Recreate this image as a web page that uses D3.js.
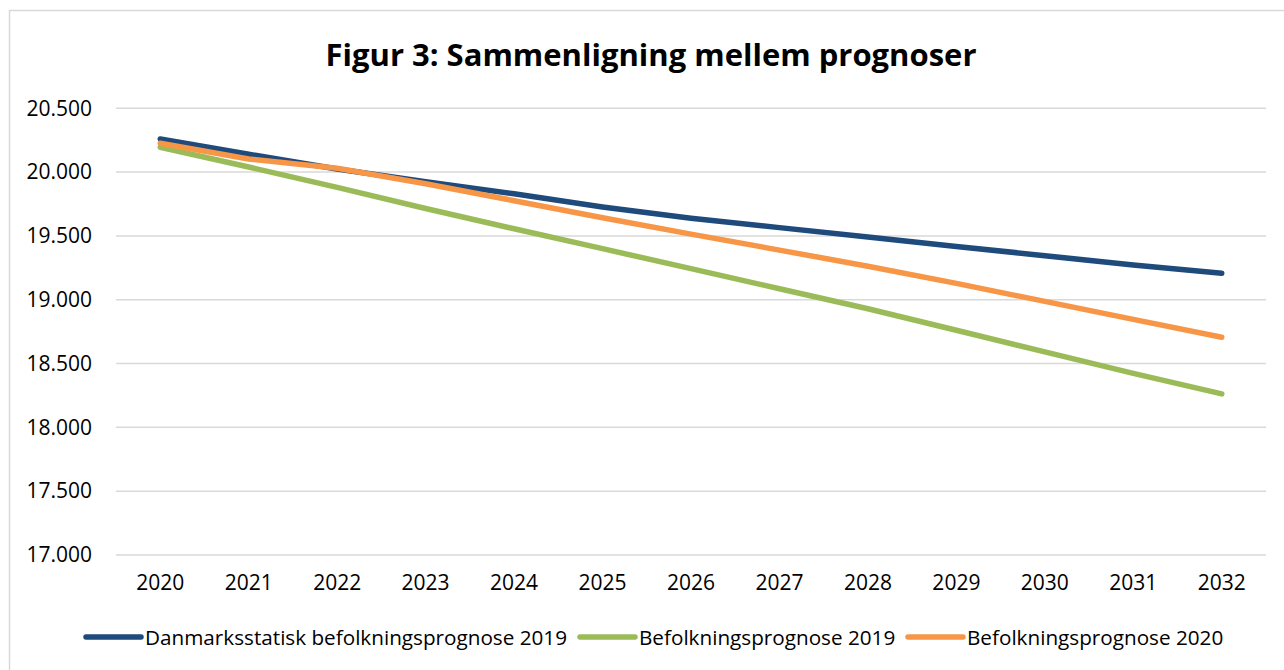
<!DOCTYPE html>
<html>
<head>
<meta charset="utf-8">
<title>Figur 3: Sammenligning mellem prognoser</title>
<script src="https://cdn.jsdelivr.net/npm/d3@7"></script>
<style>
  body { margin: 0; background: #fff; }
  text { font-family: "Open Sans", "Noto Sans", sans-serif; fill: #000; }
</style>
</head>
<body>
<script>
// data
var years = ["2020", "2021", "2022", "2023", "2024", "2025", "2026",
             "2027", "2028", "2029", "2030", "2031", "2032"];
var dst2019 = [20260, 20140, 20025, 19925, 19830, 19727, 19639,
               19565, 19492, 19418, 19345, 19273, 19208];
var prog2019 = [20195, 20040, 19880, 19715, 19556, 19400, 19244,
                19086, 18929, 18761, 18591, 18423, 18262];
var prog2020 = [20226, 20103, 20030, 19909, 19776, 19643, 19514,
                19389, 19263, 19128, 18987, 18846, 18706];
var yTicks = [17000, 17500, 18000, 18500, 19000, 19500, 20000, 20500];
var seriesNames = ["Danmarksstatisk befolkningsprognose 2019",
                   "Befolkningsprognose 2019",
                   "Befolkningsprognose 2020"];
var seriesColors = ["#1f4a7c", "#9bbb59", "#f79646"];

var W = 1284, H = 670;

var svg = d3.select("body").append("svg")
    .attr("width", W)
    .attr("height", H);

// chart frame
svg.append("rect")
    .attr("x", 9.5).attr("y", 10.5)
    .attr("width", W + 20).attr("height", H + 20)
    .attr("fill", "none")
    .attr("stroke", "#d9d9d9")
    .attr("stroke-width", 1.5);

var x = d3.scaleBand().domain(years).range([116, 1266]);
var y = d3.scaleLinear().domain([17000, 20500]).range([555, 108.3]);

// title
svg.append("text")
    .attr("x", 651).attr("y", 66)
    .attr("text-anchor", "middle")
    .style("font-size", "31px")
    .style("font-weight", "bold")
    .text("Figur 3: Sammenligning mellem prognoser");

// gridlines
svg.append("g").selectAll("line")
    .data(yTicks)
    .enter().append("line")
    .attr("x1", x.range()[0]).attr("x2", x.range()[1])
    .attr("y1", function(d) { return y(d); })
    .attr("y2", function(d) { return y(d); })
    .attr("stroke", "#d9d9d9")
    .attr("stroke-width", 1.5);

// y axis labels
var fmt = function(d) { return d3.format(",")(d).replace(",", "."); };
var yAxis = d3.axisLeft(y).tickValues(yTicks).tickFormat(fmt).tickSize(0).tickPadding(24);
var gy = svg.append("g").attr("transform", "translate(116,0)").call(yAxis);
gy.select(".domain").remove();
gy.selectAll("text").style("font-size", "21px").style("font-family", "\"Open Sans\", sans-serif");

// x axis labels
var xAxis = d3.axisBottom(x).tickSize(0).tickPadding(20);
var gx = svg.append("g").attr("transform", "translate(0,555)").call(xAxis);
gx.select(".domain").remove();
gx.selectAll("text").style("font-size", "21px").style("font-family", "\"Open Sans\", sans-serif");

// lines
var line = d3.line()
    .x(function(d, i) { return x(years[i]) + x.bandwidth() / 2; })
    .y(function(d) { return y(d); });

var allSeries = [dst2019, prog2019, prog2020];
// draw order: blue, green, orange on top
svg.append("g").selectAll("path")
    .data(allSeries)
    .enter().append("path")
    .attr("d", function(d) { return line(d); })
    .attr("fill", "none")
    .attr("stroke", function(d, i) { return seriesColors[i]; })
    .attr("stroke-width", 5.5)
    .attr("stroke-linecap", "round")
    .attr("stroke-linejoin", "round");

// legend
var legendX = [86, 580, 908];
var lg = svg.append("g").attr("transform", "translate(0,637)");
seriesNames.forEach(function(name, i) {
    lg.append("line")
        .attr("x1", legendX[i]).attr("x2", legendX[i] + 55)
        .attr("y1", 0).attr("y2", 0)
        .attr("stroke", seriesColors[i])
        .attr("stroke-width", 5.5)
        .attr("stroke-linecap", "round");
    lg.append("text")
        .attr("x", legendX[i] + 59)
        .attr("y", 7.5)
        .style("font-size", "20.7px")
        .text(name);
});
</script>
</body>
</html>
